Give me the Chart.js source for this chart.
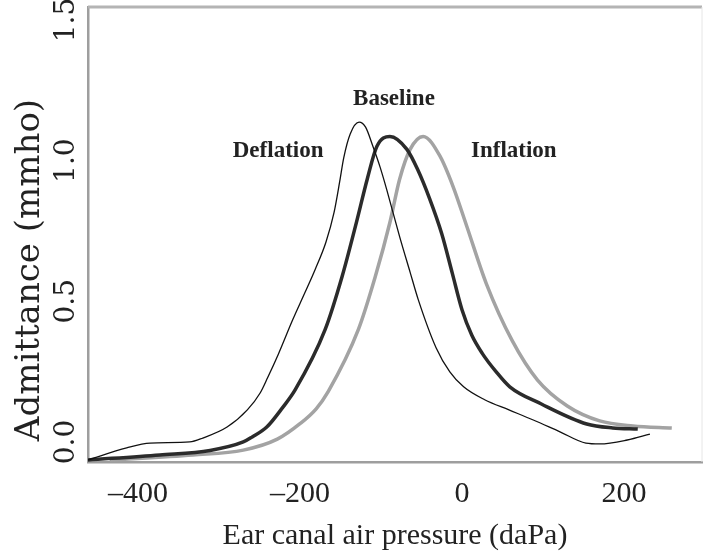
<!DOCTYPE html>
<html lang="en">
<head>
<meta charset="UTF-8">
<title>Tympanogram</title>
<script src="https://cdn.jsdelivr.net/npm/chart.js"></script>
<style>
  body { margin: 0; background: #fff; }
  #wrap { width: 707px; height: 560px; }
</style>
</head>
<body>
<div id="wrap"><canvas id="tymp"></canvas></div>
<script>
// ear canal pressure (daPa) and admittance (mmho)
const deflationP = [-462, -414, -385, -336, -320, -290, -265, -249, -240, -227, -209, -194, -181, -168, -158, -151, -146, -138, -127, -119, -110, -101, -93, -77, -64, -54, -32, -15, 2, 28, 58, 88, 121, 153, 170, 204, 232];
const deflationY = [-0.064, -0.021, -0.004, 0.0, 0.014, 0.053, 0.114, 0.175, 0.228, 0.31, 0.434, 0.53, 0.615, 0.71, 0.815, 0.925, 1.01, 1.095, 1.137, 1.119, 1.051, 0.976, 0.898, 0.73, 0.603, 0.506, 0.335, 0.249, 0.196, 0.15, 0.114, 0.078, 0.036, -0.004, -0.007, 0.007, 0.028];

const baselineP = [-462, -373, -311, -270, -259, -241, -221, -206, -169, -148, -130, -117, -105, -89, -68, -55, -40, -25, -12, 0, 12, 25, 42, 59, 98, 154, 186, 217];
const baselineY = [-0.064, -0.046, -0.03, 0.0, 0.018, 0.053, 0.124, 0.185, 0.399, 0.588, 0.784, 0.934, 1.051, 1.086, 1.04, 0.97, 0.865, 0.74, 0.6, 0.47, 0.38, 0.315, 0.25, 0.196, 0.135, 0.064, 0.05, 0.046];

const inflationP = [-435, -332, -270, -228, -200, -180, -165, -128, -107, -89, -77, -64, -48, -27, -11, 6, 30, 62, 93, 130, 170, 211, 259];
const inflationY = [-0.064, -0.046, -0.029, 0.01, 0.065, 0.118, 0.18, 0.399, 0.588, 0.78, 0.934, 1.04, 1.086, 1.015, 0.908, 0.766, 0.563, 0.36, 0.221, 0.128, 0.075, 0.057, 0.05];

const xTicks = [-400, -200, 0, 200];
const yTicks = [0.0, 0.5, 1.0, 1.5];

const curveNames = ['Deflation', 'Baseline', 'Inflation'];
const nameP = [-227, -84, 64];
const nameY = [1.035, 1.218, 1.033];

function pts(p, y) {
    return p.map((v, i) => ({ x: v, y: y[i] }));
}

// frame, rotated y labels and curve names
const extras = {
    id: 'extras',
    afterDatasetsDraw(chart) {
        const ctx = chart.ctx;
        const a = chart.chartArea;
        const xs = chart.scales.x, ys = chart.scales.y;
        ctx.save();
        ctx.strokeStyle = '#b4b4b4';
        ctx.lineWidth = 3;
        ctx.beginPath();
        ctx.moveTo(a.left, a.top);
        ctx.lineTo(a.right, a.top);
        ctx.stroke();
        ctx.strokeStyle = '#e6e6e6';
        ctx.lineWidth = 1;
        ctx.beginPath();
        ctx.moveTo(a.right, a.top);
        ctx.lineTo(a.right, a.bottom);
        ctx.stroke();

        ctx.fillStyle = '#222';
        ctx.textAlign = 'center';
        ctx.textBaseline = 'middle';
        ctx.font = '28px "DejaVu Serif"';
        yTicks.forEach(v => {
            ctx.save();
            ctx.translate(67, ys.getPixelForValue(v));
            ctx.rotate(-Math.PI / 2);
            ctx.fillText(v.toFixed(1), 0, 0);
            ctx.restore();
        });
        ctx.save();
        ctx.translate(30, 270);
        ctx.rotate(-Math.PI / 2);
        ctx.font = '34px "DejaVu Serif"';
        ctx.fillText('Admittance (mmho)', 0, 0);
        ctx.restore();

        ctx.font = 'bold 23px "Liberation Serif"';
        curveNames.forEach((n, i) => {
            ctx.fillText(n, xs.getPixelForValue(nameP[i]), ys.getPixelForValue(nameY[i]));
        });
        ctx.restore();
    }
};

new Chart(document.getElementById('tymp'), {
    type: 'scatter',
    data: {
        datasets: [
            { label: 'Deflation', data: pts(deflationP, deflationY), borderColor: '#111', borderWidth: 1.3 },
            { label: 'Baseline', data: pts(baselineP, baselineY), borderColor: '#2b2b2b', borderWidth: 3.5 },
            { label: 'Inflation', data: pts(inflationP, inflationY), borderColor: '#a3a3a3', borderWidth: 3.5 }
        ].map(d => Object.assign(d, { showLine: true, pointRadius: 0, cubicInterpolationMode: 'monotone', fill: false }))
    },
    options: {
        responsive: true,
        maintainAspectRatio: false,
        animation: false,
        layout: { padding: { top: 7, right: 5, left: 0, bottom: 0 } },
        plugins: { legend: { display: false }, tooltip: { enabled: false } },
        scales: {
            x: {
                type: 'linear',
                min: -461.7,
                max: 296.3,
                afterBuildTicks: s => { s.ticks = xTicks.map(v => ({ value: v })); },
                afterFit: s => { s.height = 98; },
                grid: { display: false, drawTicks: false },
                border: { display: true, color: '#9e9e9e', width: 2.5 },
                ticks: {
                    padding: 14,
                    color: '#222',
                    font: { family: '"Liberation Serif"', size: 30 },
                    callback: v => v < 0 ? '\u2013' + Math.abs(v) : String(v)
                },
                title: {
                    display: true,
                    text: 'Ear canal air pressure (daPa)',
                    color: '#222',
                    font: { family: '"Liberation Serif"', size: 30 },
                    padding: { top: 0, bottom: 6 }
                }
            },
            y: {
                type: 'linear',
                min: -0.0712,
                max: 1.546,
                afterFit: s => { s.width = 88; },
                grid: { display: false, drawTicks: false },
                border: { display: true, color: '#9e9e9e', width: 2.5 },
                ticks: { display: false }
            }
        }
    },
    plugins: [extras]
});
</script>
</body>
</html>
